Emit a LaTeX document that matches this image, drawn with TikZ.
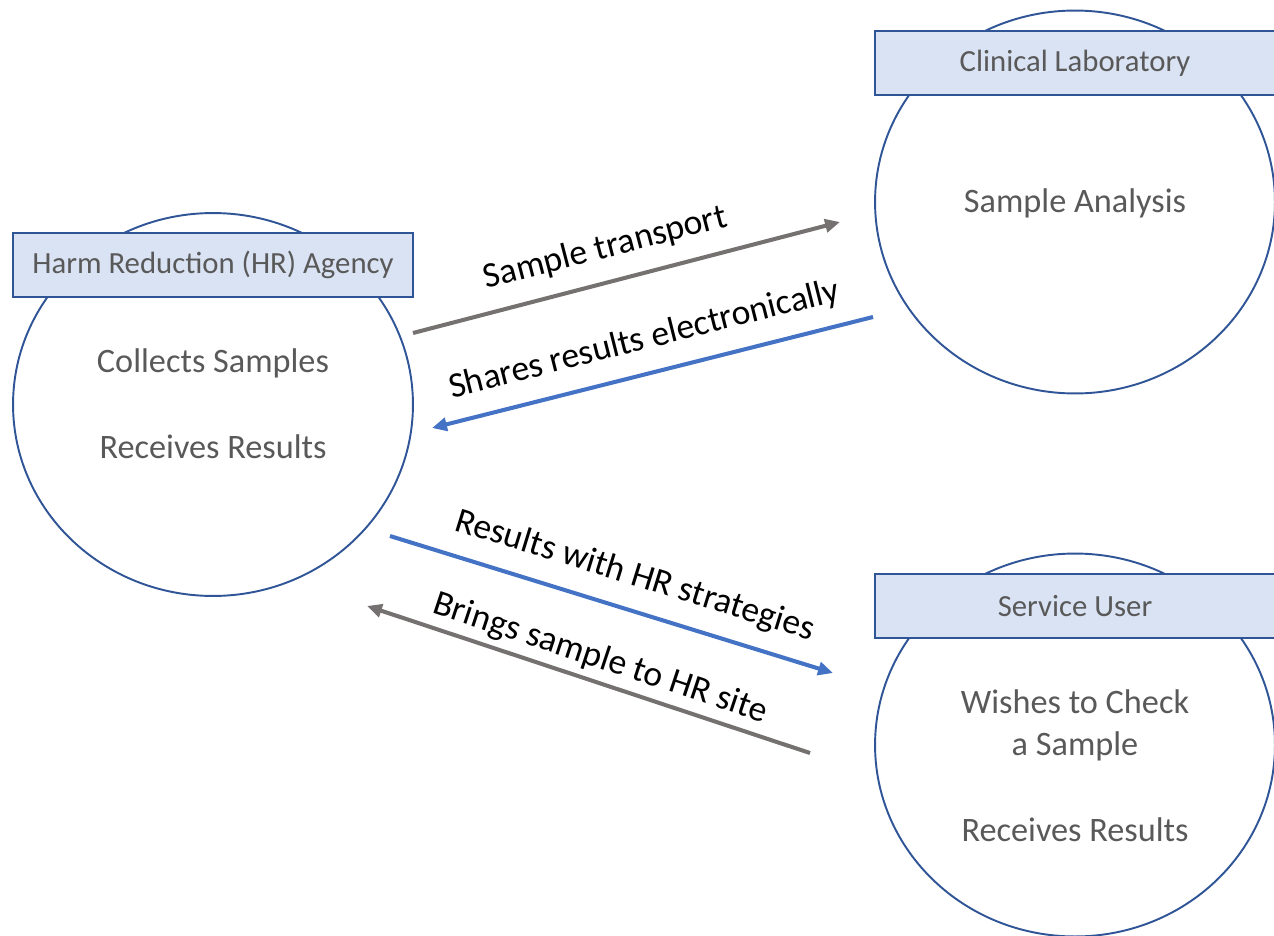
\documentclass[tikz,border=0pt]{standalone}
\usepackage{fontspec}
\setmainfont{Carlito}
\usepackage{xcolor}
\usepackage{tikz}
\usetikzlibrary{shapes.geometric,arrows.meta,positioning}
\definecolor{rim}{HTML}{2F5597}
\definecolor{boxfill}{HTML}{DAE3F3}
\definecolor{txtgray}{HTML}{595959}
\definecolor{flowgray}{HTML}{767171}
\definecolor{flowblue}{HTML}{4472C4}

\begin{document}
\begin{tikzpicture}[x=0.02cm,y=-0.02cm,
	party/.style={ellipse,draw=rim,line width=1.1pt,minimum width=8cm,minimum height=7.66cm,inner sep=0pt},
	head/.style={rectangle,draw=rim,line width=1.1pt,fill=boxfill,minimum width=8cm,minimum height=1.28cm,text=txtgray,font=\fontsize{17.5}{21}\selectfont},
	body/.style={text=txtgray,font=\fontsize{19.5}{24}\selectfont,align=center},
	flow/.style={line width=2.3pt,-{Triangle[length=8.5pt,width=7.5pt]}},
	msg/.style={sloped,above=6pt,text=black,font=\fontsize{20.3}{24}\selectfont}]
		\useasboundingbox (0,0) rectangle (1274,936);
		% the three parties
		\node[party] (agency) at (213,404.5) {};
		\node[party] (lab) at (1075,202) {};
		\node[party] (user) at (1075,745) {};
		\node[head] (agencyhead) at (213,265) {Harm Reduction (HR) Agency};
		\node[head] (labhead) at (1075,63) {Clinical Laboratory};
		\node[head] (userhead) at (1075,606) {Service User};
		\node[body] (agencyjob) at (213,363) {Collects Samples};
		\node[body] (agencyget) at (213,447) {Receives Results};
		\node[body] (labjob) at (1075,203) {Sample Analysis};
		\node[body] (userjob) at (1075,725) {Wishes to Check\\a Sample};
		\node[body] (userget) at (1075,830) {Receives Results};
		% arrow ends
		\coordinate (ab1) at (413,333);
		\coordinate (ab2) at (840,222);
		\coordinate (ba1) at (873,317);
		\coordinate (ba2) at (432,428);
		\coordinate (au1) at (390,536);
		\coordinate (au2) at (833,673);
		\coordinate (ua1) at (810,753);
		\coordinate (ua2) at (367,606);
		\draw[flow,flowgray] (ab1) -- node[msg,pos=0.47] {Sample transport} (ab2);
		\draw[flow,flowblue] (ba1) -- node[msg,pos=0.5] {Shares results electronically} (ba2);
		\draw[flow,flowblue] (au1) -- node[msg,pos=0.53] {Results with HR strategies} (au2);
		\draw[flow,flowgray] (ua1) -- node[msg,pos=0.49,above=0pt] {Brings sample to HR site} (ua2);
	\end{tikzpicture}
\end{document}
